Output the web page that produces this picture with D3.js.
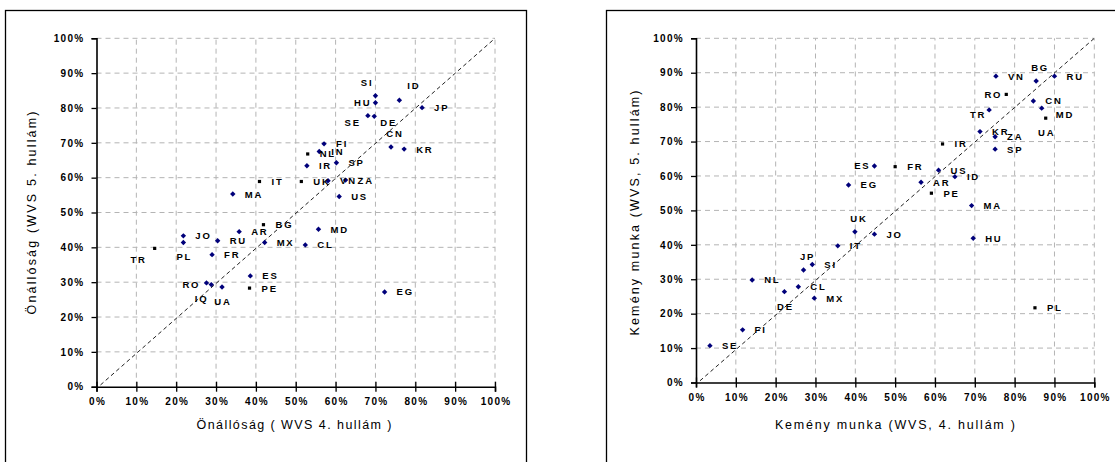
<!DOCTYPE html>
<html><head><meta charset="utf-8">
<script src="https://cdn.jsdelivr.net/npm/d3@7"></script>
<style>
html,body{margin:0;padding:0;background:#fff;}
svg{display:block;font-family:"Liberation Sans",Arial,sans-serif;}
</style></head><body>
<svg id="c" width="1115" height="462"></svg>
<script>
// ---------- DATA ----------
const ticks = [0,0.1,0.2,0.3,0.4,0.5,0.6,0.7,0.8,0.9,1.0];

// Left chart: Önállóság
const leftCodes = ["SI","HU","ID","JP","SE","DE","CN","KR","FI","NL","IN","IR","SP","IT","UK","VN","ZA","US","MA","MD","BG","AR","RU","JO","PL","MX","CL","TR","FR","ES","PE","RO","IQ","UA","EG"];
const leftX = [70.0,70.0,76.0,81.7,68.1,69.7,73.9,77.2,57.1,53.0,55.9,52.8,60.2,40.9,51.4,58.1,62.5,60.9,34.2,55.7,41.9,35.8,30.4,21.8,21.8,42.2,52.4,14.6,29.0,38.6,38.4,28.8,27.6,31.5,72.3];
const leftY = [83.5,81.5,82.2,80.1,77.8,77.6,68.8,68.2,69.7,66.8,67.5,63.4,64.3,58.9,58.9,59.1,59.3,54.6,55.3,45.2,46.5,44.5,41.9,43.3,41.4,41.4,40.7,39.7,37.9,31.8,28.3,29.3,29.8,28.6,27.2];
const leftLabelPos = ["tl","l","tr","r","bl","br","t","r","r","r","r","r","r","r","r","r","r","r","r","r","r","r","r","r","b","r","r","BL","r","r","r","L","lb","b","r"];
const leftSquares = ["NL","IT","UK","TR","PE","BG"];

// Right chart: Kemény munka
const rightCodes = ["VN","BG","RU","RO","CN","MD","UA","TR","KR","ZA","SP","IR","ES","FR","US","ID","AR","EG","PE","MA","UK","JO","HU","IT","JP","SI","NL","CL","DE","MX","PL","FI","SE"];
const rightX = [75.3,85.4,90.0,77.9,84.7,86.8,87.8,73.6,71.3,75.1,75.1,61.9,44.8,50.0,60.9,65.0,56.5,38.3,59.1,69.2,39.9,44.8,69.6,35.6,27.0,29.2,14.1,25.7,22.2,29.7,85.1,11.7,3.5];
const rightY = [89.0,87.6,89.0,83.7,81.8,79.7,76.8,79.2,72.9,71.4,67.8,69.3,62.9,62.7,61.7,59.8,58.2,57.4,55.0,51.4,43.8,43.1,41.9,39.7,32.7,34.3,29.8,27.8,26.4,24.5,21.7,15.3,10.7];
const rightLabelPos = ["r","t","r","l","r","R","b","ld","r","r","r","r","l","r","r","r","r","r","r","r","t","r","r","r","t","r","r","r","b","r","r","r","r"];
const rightSquares = ["IR","FR","PE","UA","PL","RO"];

// ---------- DRAW ----------
const svg = d3.select("#c");
const FONT = "'Liberation Sans',Arial,sans-serif";

function panel(cfg){
  const g = svg.append("g");
  g.append("rect").attr("x",cfg.frame[0]+0.5).attr("y",cfg.frame[1]+0.5)
    .attr("width",cfg.frame[2]).attr("height",cfg.frame[3])
    .attr("fill","none").attr("stroke","#000").attr("stroke-width",1.3);

  const x = d3.scaleLinear().domain([0,1]).range([cfg.x0,cfg.x1]);
  const y = d3.scaleLinear().domain([0,1]).range([cfg.y0,cfg.y1]);

  const grid = g.append("g").attr("stroke","#b4b4b4").attr("stroke-width",1).attr("stroke-dasharray","5,4");
  ticks.filter(t=>t>0).forEach(t=>{
    grid.append("line").attr("x1",x(t)).attr("x2",x(t)).attr("y1",y(0)).attr("y2",y(1));
    grid.append("line").attr("x1",x(0)).attr("x2",x(1)).attr("y1",y(t)).attr("y2",y(t));
  });

  g.append("line").attr("x1",x(0.01)).attr("y1",y(0.005)).attr("x2",x(1)).attr("y2",y(1))
    .attr("stroke","#222").attr("stroke-width",1).attr("stroke-dasharray","4,3");

  const fmt = d3.format(".0%");
  const yAxis = d3.axisLeft(y).tickValues(ticks).tickSize(5).tickFormat(fmt);
  const xAxis = d3.axisBottom(x).tickValues(ticks).tickSize(5).tickFormat(fmt);
  const ya = g.append("g").attr("transform",`translate(${x(0)},0)`).call(yAxis);
  const xa = g.append("g").attr("transform",`translate(0,${y(0)})`).call(xAxis);
  [ya,xa].forEach(a=>{
    a.select(".domain").attr("stroke","#000").attr("stroke-width",1.6);
    a.selectAll(".tick line").attr("stroke","#000").attr("stroke-width",1.3);
    a.selectAll("text").attr("fill","#000").attr("font-size",10).attr("font-weight","bold")
      .attr("letter-spacing","1.3px").attr("font-family",FONT);
  });
  ya.selectAll(".tick text").attr("x",-12);
  xa.selectAll(".tick line").attr("y1",-5).attr("y2",5);
  xa.selectAll(".tick text").attr("y",11).attr("dx","0.6px");

  g.append("text").attr("x",cfg.xTitle[0]).attr("y",cfg.xTitle[1]).attr("text-anchor","middle")
    .attr("font-size",12.5).attr("fill","#000").attr("textLength",cfg.xTitle[2]).attr("lengthAdjust","spacing")
    .text(cfg.xLabel);
  g.append("text").attr("transform",`translate(${cfg.yTitle[0]},${cfg.yTitle[1]}) rotate(-90)`)
    .attr("text-anchor","middle").attr("font-size",12.5).attr("fill","#000")
    .attr("textLength",cfg.yTitle[2]).attr("lengthAdjust","spacing").text(cfg.yLabel);

  const data = cfg.codes.map((c,i)=>({c, x:cfg.xs[i]/100, y:cfg.ys[i]/100, p:cfg.pos[i]}));
  const pts = g.append("g");
  data.forEach(d=>{
    const px = x(d.x), py = y(d.y);
    if (cfg.squares.includes(d.c)) {
      pts.append("rect").attr("x",px-1.6).attr("y",py-1.6).attr("width",3.2).attr("height",3.2).attr("fill","#000");
    } else {
      pts.append("path").attr("d",`M${px},${py-2.7}L${px+2.7},${py}L${px},${py+2.7}L${px-2.7},${py}Z`).attr("fill","#00007a");
    }
  });
  const off = {
    r:[12,3.5,"start"], l:[-4,3.5,"end"], L:[-11,3.5,"end"], t:[4,-10,"middle"], b:[1,18,"middle"],
    tr:[8,-11,"start"], tl:[-2,-10,"end"], bl:[-7,10.5,"end"], BL:[-8,14.5,"end"], br:[6,9.5,"start"],
    R:[14,9.5,"start"], lb:[2,19,"end"], ld:[-3,8,"end"]
  };
  const lab = g.append("g").attr("font-size",9.5).attr("font-weight","bold").attr("letter-spacing","1.8px").attr("fill","#000");
  data.forEach(d=>{
    const o = off[d.p];
    lab.append("text").attr("x",x(d.x)+o[0]).attr("y",y(d.y)+o[1]).attr("text-anchor",o[2]).text(d.c);
  });
}

panel({
  frame:[5,10,521,470], x0:96.5, x1:495, y0:386.7, y1:38.3,
  xLabel:"Önállóság ( WVS 4. hullám )", yLabel:"Önállóság (WVS 5. hullám)",
  xTitle:[294,429,195], yTitle:[36,213,203],
  codes:leftCodes, xs:leftX, ys:leftY, pos:leftLabelPos, squares:leftSquares
});
panel({
  frame:[606,10,521,470], x0:696, x1:1094.3, y0:382.5, y1:38.3,
  xLabel:"Kemény munka (WVS, 4. hullám )", yLabel:"Kemény munka (WVS, 5. hullám)",
  xTitle:[895,429,240], yTitle:[639,213,245],
  codes:rightCodes, xs:rightX, ys:rightY, pos:rightLabelPos, squares:rightSquares
});
</script>
</body></html>
